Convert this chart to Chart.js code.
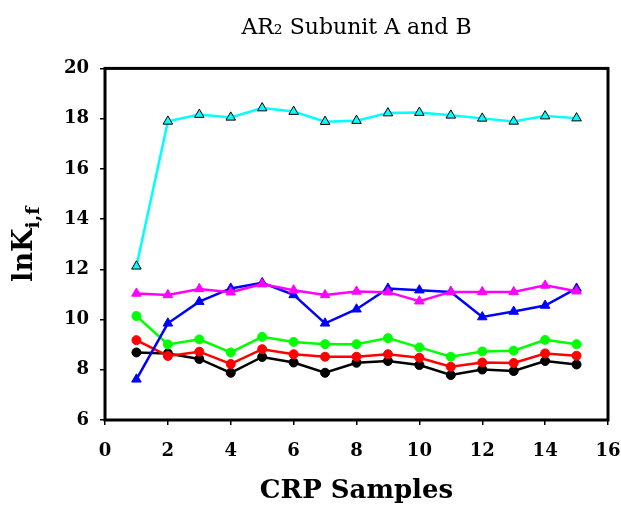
<!DOCTYPE html>
<html>
<head>
<meta charset="utf-8">
<script src="https://cdn.jsdelivr.net/npm/chart.js@4/dist/chart.umd.min.js"></script>
<style>
html,body{margin:0;padding:0;background:#fff;}
canvas{display:block;}
</style>
</head>
<body>
<canvas id="c" width="621" height="507"></canvas>
<script>
const samples = [1,2,3,4,5,6,7,8,9,10,11,12,13,14,15];
const cyanSeries    = [12.12,17.89,18.16,18.05,18.42,18.28,17.88,17.92,18.22,18.24,18.13,18.01,17.89,18.10,18.02];
const magentaSeries = [11.04,10.98,11.22,11.09,11.41,11.17,10.98,11.12,11.09,10.73,11.10,11.10,11.10,11.36,11.13];
const blueSeries    = [7.62,9.85,10.71,11.24,11.46,10.98,9.85,10.41,11.24,11.17,11.10,10.10,10.32,10.56,11.24];
const greenSeries   = [10.14,9.01,9.21,8.69,9.31,9.11,9.02,9.02,9.26,8.89,8.52,8.73,8.76,9.19,9.02];
const redSeries     = [9.18,8.55,8.72,8.23,8.82,8.62,8.52,8.52,8.62,8.48,8.12,8.29,8.27,8.65,8.56];
const blackSeries   = [8.69,8.65,8.43,7.88,8.51,8.29,7.88,8.28,8.35,8.19,7.79,8.01,7.95,8.35,8.21];
const xTicks = [0,2,4,6,8,10,12,14,16];
const yTicks = [6,8,10,12,14,16,18,20];
const titleText = 'AR\u2082 Subunit A and B';
const xTitle = 'CRP Samples';
const yTitleMain = 'lnK';
const yTitleSub = 'i,f';

const pts = arr => arr.map((v,i)=>({x:samples[i], y:v}));
function ds(data, color, style, border){
  return {data: pts(data), borderColor: color, backgroundColor: color,
    borderWidth: 2.5, pointStyle: style, pointRadius: style==='triangle'?5.5:4.5,
    pointBorderColor: border||color, pointBorderWidth: 1, pointBackgroundColor: color,
    tension: 0, fill: false};
}
const serif = '"DejaVu Serif", "Liberation Serif", serif';

const framePlugin = {
  id: 'frame',
  afterDatasetsDraw(chart){
    const {ctx, chartArea:a} = chart;
    ctx.save();
    ctx.strokeStyle = '#000';
    ctx.lineWidth = 3;
    ctx.strokeRect(a.left, a.top, a.right-a.left, a.bottom-a.top);
    ctx.restore();
  },
  afterDraw(chart){
    const {ctx, chartArea:a} = chart;
    ctx.save();
    ctx.fillStyle = '#000';
    const mainFont = 'bold 27px ' + serif;
    const subFont = 'bold 19px ' + serif;
    ctx.font = mainFont;
    const w1 = ctx.measureText(yTitleMain).width;
    ctx.font = subFont;
    const w2 = ctx.measureText(yTitleSub).width;
    const total = w1 + w2;
    const cy = (a.top + a.bottom)/2;
    ctx.translate(32, cy);
    ctx.rotate(-Math.PI/2);
    ctx.textBaseline = 'alphabetic';
    ctx.textAlign = 'left';
    ctx.font = mainFont;
    ctx.fillText(yTitleMain, -total/2, 0);
    ctx.font = subFont;
    ctx.fillText(yTitleSub, -total/2 + w1, 7);
    ctx.restore();
  }
};

new Chart(document.getElementById('c'), {
  type: 'line',
  data: {
    datasets: [
      ds(cyanSeries, '#00FFFF', 'triangle', '#000000'),
      ds(magentaSeries, '#FF00FF', 'triangle'),
      ds(blueSeries, '#0000FF', 'triangle'),
      ds(greenSeries, '#00FF00', 'circle'),
      ds(redSeries, '#FF0000', 'circle'),
      ds(blackSeries, '#000000', 'circle')
    ]
  },
  options: {
    responsive: false,
    animation: false,
    devicePixelRatio: 1,
    layout: {padding: {left: 0, right: 13, top: 0, bottom: 0}},
    plugins: {
      legend: {display: false},
      tooltip: {enabled: false},
      title: {display: true, text: titleText, fullSize: false, color: '#000',
        font: {family: serif, size: 22, weight: 'normal'}, padding: {top: 15, bottom: 27}}
    },
    scales: {
      x: {
        type: 'linear', min: 0, max: 16,
        afterBuildTicks: s => { s.ticks = xTicks.map(v=>({value:v})); },
        afterFit: s => { s.height = 87; s.paddingLeft = 0; s.paddingRight = 0; },
        grid: {display: true, drawOnChartArea: false, drawTicks: true, tickLength: 5, color: '#000', lineWidth: 1.5},
        border: {display: false},
        ticks: {color: '#000', padding: 16, maxRotation: 0, font: {family: serif, size: 18, weight: 'bold'}},
        title: {display: true, text: xTitle, color: '#000', padding: {top: 0, bottom: 0},
          font: {family: serif, size: 26, weight: 'bold'}}
      },
      y: {
        type: 'linear', min: 6, max: 20,
        afterBuildTicks: s => { s.ticks = yTicks.map(v=>({value:v})); },
        afterFit: s => { s.width = 105; s.paddingTop = 0; s.paddingBottom = 0; },
        grid: {display: true, drawOnChartArea: false, drawTicks: true, tickLength: 5, color: '#000', lineWidth: 1.5},
        border: {display: false},
        ticks: {color: '#000', padding: 11, font: {family: serif, size: 18, weight: 'bold'}}
      }
    }
  },
  plugins: [framePlugin]
});
</script>
</body>
</html>
